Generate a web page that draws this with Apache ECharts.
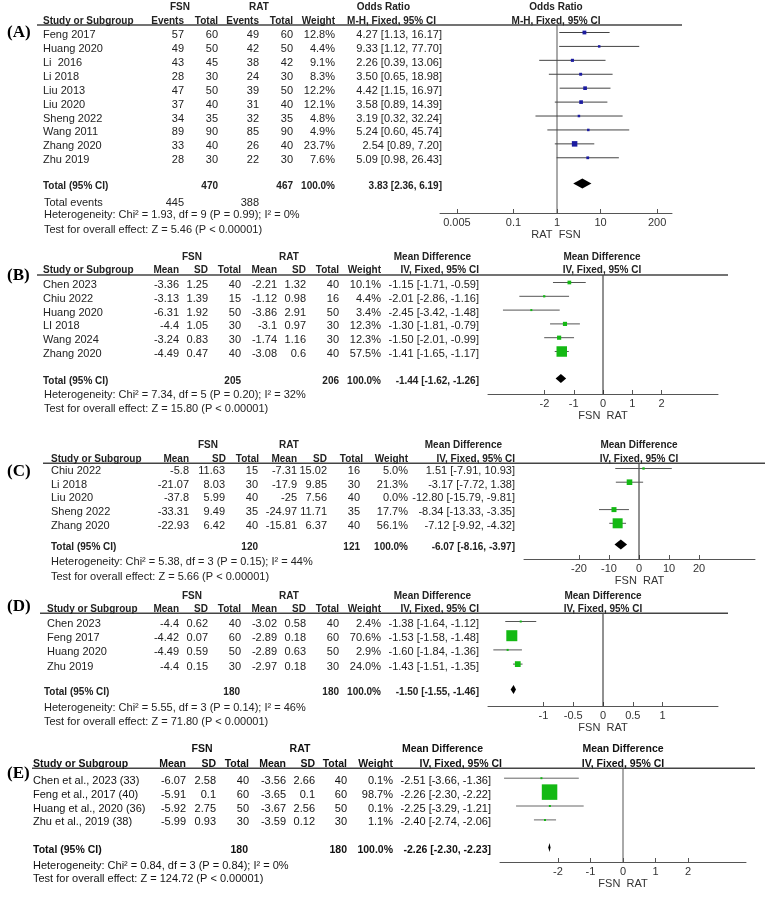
<!DOCTYPE html>
<html><head><meta charset="utf-8">
<script src="https://cdn.jsdelivr.net/npm/echarts@6/dist/echarts.min.js"></script>
<style>html,body{margin:0;padding:0;background:#fff}#c{width:767px;height:899px}</style>
</head><body><div id="c"></div>
<script>
// ================= DATA =================
// (A) Odds ratio
const studiesA = ['Feng 2017','Huang 2020','Li  2016','Li 2018','Liu 2013','Liu 2020','Sheng 2022','Wang 2011','Zhang 2020','Zhu 2019'];
const fsnEventsA = [57,49,43,28,47,37,34,89,33,28];
const fsnTotalA  = [60,50,45,30,50,40,35,90,40,30];
const ratEventsA = [49,42,38,24,39,31,32,85,26,22];
const ratTotalA  = [60,50,42,30,50,40,35,90,40,30];
const weightA = [12.8,4.4,9.1,8.3,12.2,12.1,4.8,4.9,23.7,7.6];
const orA   = [4.27,9.33,2.26,3.50,4.42,3.58,3.19,5.24,2.54,5.09];
const orLoA = [1.13,1.12,0.39,0.65,1.15,0.89,0.32,0.60,0.89,0.98];
const orHiA = [16.17,77.70,13.06,18.98,16.97,14.39,32.24,45.74,7.20,26.43];
const pooledA = [3.83,2.36,6.19];
const totalsA = [470,467];
const eventsA = [445,388];
const hetA  = 'Heterogeneity: Chi² = 1.93, df = 9 (P = 0.99); I² = 0%';
const testA = 'Test for overall effect: Z = 5.46 (P < 0.00001)';
const ticksA = [0.005,0.1,1,10,200];

// (B)
const studiesB = ['Chen 2023','Chiu 2022','Huang 2020','LI 2018','Wang 2024','Zhang 2020'];
const fsnMeanB = [-3.36,-3.13,-6.31,-4.4,-3.24,-4.49];
const fsnSdB   = [1.25,1.39,1.92,1.05,0.83,0.47];
const fsnNB    = [40,15,50,30,30,40];
const ratMeanB = [-2.21,-1.12,-3.86,-3.1,-1.74,-3.08];
const ratSdB   = [1.32,0.98,2.91,0.97,1.16,0.6];
const ratNB    = [40,16,50,30,30,40];
const weightB  = [10.1,4.4,3.4,12.3,12.3,57.5];
const mdB   = [-1.15,-2.01,-2.45,-1.30,-1.50,-1.41];
const mdLoB = [-1.71,-2.86,-3.42,-1.81,-2.01,-1.65];
const mdHiB = [-0.59,-1.16,-1.48,-0.79,-0.99,-1.17];
const pooledB = [-1.44,-1.62,-1.26];
const totalsB = [205,206];
const hetB  = 'Heterogeneity: Chi² = 7.34, df = 5 (P = 0.20); I² = 32%';
const testB = 'Test for overall effect: Z = 15.80 (P < 0.00001)';
const ticksB = [-2,-1,0,1,2];

// (C)
const studiesC = ['Chiu 2022','Li 2018','Liu 2020','Sheng 2022','Zhang 2020'];
const fsnMeanC = [-5.8,-21.07,-37.8,-33.31,-22.93];
const fsnSdC   = [11.63,8.03,5.99,9.49,6.42];
const fsnNC    = [15,30,40,35,40];
const ratMeanC = [-7.31,-17.9,-25,-24.97,-15.81];
const ratSdC   = [15.02,9.85,7.56,11.71,6.37];
const ratNC    = [16,30,40,35,40];
const weightC  = [5.0,21.3,0.0,17.7,56.1];
const mdC   = [1.51,-3.17,-12.80,-8.34,-7.12];
const mdLoC = [-7.91,-7.72,-15.79,-13.33,-9.92];
const mdHiC = [10.93,1.38,-9.81,-3.35,-4.32];
const pooledC = [-6.07,-8.16,-3.97];
const totalsC = [120,121];
const hetC  = 'Heterogeneity: Chi² = 5.38, df = 3 (P = 0.15); I² = 44%';
const testC = 'Test for overall effect: Z = 5.66 (P < 0.00001)';
const ticksC = [-20,-10,0,10,20];

// (D)
const studiesD = ['Chen 2023','Feng 2017','Huang 2020','Zhu 2019'];
const fsnMeanD = [-4.4,-4.42,-4.49,-4.4];
const fsnSdD   = [0.62,0.07,0.59,0.15];
const fsnND    = [40,60,50,30];
const ratMeanD = [-3.02,-2.89,-2.89,-2.97];
const ratSdD   = [0.58,0.18,0.63,0.18];
const ratND    = [40,60,50,30];
const weightD  = [2.4,70.6,2.9,24.0];
const mdD   = [-1.38,-1.53,-1.60,-1.43];
const mdLoD = [-1.64,-1.58,-1.84,-1.51];
const mdHiD = [-1.12,-1.48,-1.36,-1.35];
const pooledD = [-1.50,-1.55,-1.46];
const totalsD = [180,180];
const hetD  = 'Heterogeneity: Chi² = 5.55, df = 3 (P = 0.14); I² = 46%';
const testD = 'Test for overall effect: Z = 71.80 (P < 0.00001)';
const ticksD = [-1,-0.5,0,0.5,1];

// (E)
const studiesE = ['Chen et al., 2023 (33)','Feng et al., 2017 (40)','Huang et al., 2020 (36)','Zhu et al., 2019 (38)'];
const fsnMeanE = [-6.07,-5.91,-5.92,-5.99];
const fsnSdE   = [2.58,0.1,2.75,0.93];
const fsnNE    = [40,60,50,30];
const ratMeanE = [-3.56,-3.65,-3.67,-3.59];
const ratSdE   = [2.66,0.1,2.56,0.12];
const ratNE    = [40,60,50,30];
const weightE  = [0.1,98.7,0.1,1.1];
const mdE   = [-2.51,-2.26,-2.25,-2.40];
const mdLoE = [-3.66,-2.30,-3.29,-2.74];
const mdHiE = [-1.36,-2.22,-1.21,-2.06];
const pooledE = [-2.26,-2.30,-2.23];
const totalsE = [180,180];
const hetE  = 'Heterogeneity: Chi² = 0.84, df = 3 (P = 0.84); I² = 0%';
const testE = 'Test for overall effect: Z = 124.72 (P < 0.00001)';
const ticksE = [-2,-1,0,1,2];

// ================= PANELS =================
const mdHeads = ['Mean','SD','Total','Mean','SD','Total'];
const panels = [
 {id:'(A)', log:true, studies:studiesA, cols:[fsnEventsA,fsnTotalA,ratEventsA,ratTotalA], heads:['Events','Total','Events','Total'],
  weights:weightA, est:orA, lo:orLoA, hi:orHiA, pooled:pooledA, totals:totalsA, events:eventsA, het:hetA, test:testA, ticks:ticksA,
  axisName:'RAT  FSN', group:'Odds Ratio', method:'M-H, Fixed, 95% CI'},
 {id:'(B)', log:false, studies:studiesB, cols:[fsnMeanB,fsnSdB,fsnNB,ratMeanB,ratSdB,ratNB], heads:mdHeads,
  weights:weightB, est:mdB, lo:mdLoB, hi:mdHiB, pooled:pooledB, totals:totalsB, het:hetB, test:testB, ticks:ticksB,
  axisName:'FSN  RAT', group:'Mean Difference', method:'IV, Fixed, 95% CI'},
 {id:'(C)', log:false, studies:studiesC, cols:[fsnMeanC,fsnSdC,fsnNC,ratMeanC,ratSdC,ratNC], heads:mdHeads,
  weights:weightC, est:mdC, lo:mdLoC, hi:mdHiC, pooled:pooledC, totals:totalsC, het:hetC, test:testC, ticks:ticksC,
  axisName:'FSN  RAT', group:'Mean Difference', method:'IV, Fixed, 95% CI'},
 {id:'(D)', log:false, studies:studiesD, cols:[fsnMeanD,fsnSdD,fsnND,ratMeanD,ratSdD,ratND], heads:mdHeads,
  weights:weightD, est:mdD, lo:mdLoD, hi:mdHiD, pooled:pooledD, totals:totalsD, het:hetD, test:testD, ticks:ticksD,
  axisName:'FSN  RAT', group:'Mean Difference', method:'IV, Fixed, 95% CI'},
 {id:'(E)', log:false, studies:studiesE, cols:[fsnMeanE,fsnSdE,fsnNE,ratMeanE,ratSdE,ratNE], heads:mdHeads,
  weights:weightE, est:mdE, lo:mdLoE, hi:mdHiE, pooled:pooledE, totals:totalsE, het:hetE, test:testE, ticks:ticksE,
  axisName:'FSN  RAT', group:'Mean Difference', method:'IV, Fixed, 95% CI'}
];

// ================= LAYOUT (pixels) =================
const green = '#14b914';
const layouts = [
 {labelY:33, groupY:7, headY:21.5, lineY:25, lineX:[37,682], row0:35, step:13.92, totalY:186, eventsY:203, hetY:215, testY:230,
  axisY:213, axisX:[440,672], zeroX:557, ppu:43.5, studyX:43, totalX:43, footX:44,
  colR:[184,218,259,293], headR:[184,218,259,293], weightR:335, weightHeadR:335, ciR:442, totColR:[218,293], totWeightR:335,
  groupC:[180,259], groupCiR:410, methodR:436, forestC:556, bold:10, reg:11, color:'#222',
  maxSide:5.5, minSide:2.5, markColor:'#1c1ca0', ciColor:'#444', nullColor:'#555', diamondH:5},
 {labelY:276, groupY:257, headY:270, lineY:275, lineX:[37,728], row0:285, step:13.8, totalY:381, hetY:395, testY:409,
  axisY:394, axisX:[488,718], zeroX:603, ppu:29.25, studyX:43, totalX:43, footX:44,
  colR:[179,208,241,277,306,339], headR:[179,208,241,277,306,339], weightR:381, weightHeadR:381, ciR:479, totColR:[241,339], totWeightR:381,
  groupC:[192,289], groupCiR:471, methodR:479, forestC:602, bold:10, reg:11, color:'#222',
  maxSide:10.5, minSide:2, markColor:green, ciColor:'#555', nullColor:'#222', diamondH:4.5},
 {labelY:472, groupY:445, headY:459, lineY:463.3, lineX:[43,765], row0:471, step:13.7, totalY:547, hetY:562, testY:576.7,
  axisY:559, axisX:[524,755], zeroX:639, ppu:3, studyX:51, totalX:51, footX:51,
  colR:[189,225,258,297,327,360], headR:[189,226,259,297,327,363], weightR:408, weightHeadR:408, ciR:515, totColR:[258,360], totWeightR:408,
  groupC:[208,289], groupCiR:502, methodR:515, forestC:639, bold:10, reg:11, color:'#222',
  maxSide:10, minSide:2, markColor:green, ciColor:'#555', nullColor:'#222', diamondH:5},
 {labelY:607, groupY:596, headY:609.5, lineY:613.3, lineX:[40,728], row0:624, step:14.2, totalY:692, hetY:708, testY:722,
  axisY:706, axisX:[488,718], zeroX:603, ppu:59.6, studyX:47, totalX:44, footX:44,
  colR:[179,208,241,277,306,339], headR:[179,208,241,277,306,339], weightR:381, weightHeadR:381, ciR:479, totColR:[240,339], totWeightR:381,
  groupC:[192,289], groupCiR:471, methodR:479, forestC:603, bold:10, reg:11, color:'#222',
  maxSide:11, minSide:2, markColor:green, ciColor:'#555', nullColor:'#222', diamondH:4.5},
 {labelY:774, groupY:749, headY:764, lineY:768.3, lineX:[32,755], row0:780.7, step:13.9, totalY:850, hetY:866, testY:879.3,
  axisY:862, axisX:[500,746], zeroX:623, ppu:32.5, studyX:33, totalX:33, footX:33,
  colR:[186,216,249,286,315,347], headR:[186,216,249,286,315,347], weightR:393, weightHeadR:393, ciR:491, totColR:[248,347], totWeightR:393,
  groupC:[202,300], groupCiR:483, methodR:502, forestC:623, bold:10.5, reg:11, color:'#111',
  maxSide:15.5, minSide:2, markColor:green, ciColor:'#666', nullColor:'#555', diamondH:4.5}
];
const markShift = -2.5;

// ================= BUILD =================
const FONT = '"Liberation Sans", Arial, Helvetica, sans-serif';
const els = [];
function T(x, y, s, align, bold, size, color, family){
  const f = (bold ? 'bold ' : '') + size + 'px ' + (family || FONT);
  els.push({type:'text', x:x, y:y, silent:true, z:10,
    style:{text:String(s), fill:color, font:f, align:align, verticalAlign:'middle', textAlign:align, textVerticalAlign:'middle'}});
}
function HL(x1, x2, y, w, c){
  els.push({type:'line', silent:true, z:5, shape:{x1:x1, y1:y, x2:x2, y2:y}, style:{stroke:c, lineWidth:w}});
}
const fmt2 = v => v.toFixed(2);
const ciText = (e, l, h) => fmt2(e) + ' [' + fmt2(l) + ', ' + fmt2(h) + ']';

const grids = [], xAxes = [], yAxes = [], series = [];

panels.forEach((P, gi) => {
  const Lo = layouts[gi];
  const c = Lo.color, B = Lo.bold, R = Lo.reg;
  const tx = P.log ? (v => Math.log10(v)) : (v => v);
  const n = P.studies.length;
  const rowY = i => Lo.row0 + i * Lo.step;

  // panel label
  T(7, Lo.labelY, P.id, 'left', true, 17, '#000', '"Liberation Serif", "Times New Roman", serif');
  // group headers
  T(Lo.groupC[0], Lo.groupY, 'FSN', 'center', true, B, c);
  T(Lo.groupC[1], Lo.groupY, 'RAT', 'center', true, B, c);
  T(Lo.groupCiR, Lo.groupY, P.group, 'right', true, B, c);
  T(Lo.forestC, Lo.groupY, P.group, 'center', true, B, c);
  // column headers
  T(Lo.studyX, Lo.headY, 'Study or Subgroup', 'left', true, B, c);
  P.heads.forEach((h, k) => T(Lo.headR[k], Lo.headY, h, 'right', true, B, c));
  T(Lo.weightHeadR, Lo.headY, 'Weight', 'right', true, B, c);
  T(Lo.methodR, Lo.headY, P.method, 'right', true, B, c);
  T(Lo.forestC, Lo.headY, P.method, 'center', true, B, c);
  HL(Lo.lineX[0], Lo.lineX[1], Lo.lineY, 1.5, '#444');

  // study rows
  P.studies.forEach((s, i) => {
    const y = rowY(i);
    T(Lo.studyX, y, s, 'left', false, R, c);
    P.cols.forEach((col, k) => T(Lo.colR[k], y, String(col[i]), 'right', false, R, c));
    T(Lo.weightR, y, P.weights[i].toFixed(1) + '%', 'right', false, R, c);
    T(Lo.ciR, y, ciText(P.est[i], P.lo[i], P.hi[i]), 'right', false, R, c);
  });
  // total row
  T(Lo.totalX, Lo.totalY, 'Total (95% CI)', 'left', true, B, c);
  T(Lo.totColR[0], Lo.totalY, String(P.totals[0]), 'right', true, B, c);
  T(Lo.totColR[1], Lo.totalY, String(P.totals[1]), 'right', true, B, c);
  T(Lo.totWeightR, Lo.totalY, '100.0%', 'right', true, B, c);
  T(Lo.ciR, Lo.totalY, ciText(P.pooled[0], P.pooled[1], P.pooled[2]), 'right', true, B, c);
  if (P.events) {
    T(Lo.footX, Lo.eventsY, 'Total events', 'left', false, R, c);
    T(Lo.colR[0], Lo.eventsY, String(P.events[0]), 'right', false, R, c);
    T(Lo.colR[2], Lo.eventsY, String(P.events[1]), 'right', false, R, c);
  }
  T(Lo.footX, Lo.hetY, P.het, 'left', false, R, c);
  T(Lo.footX, Lo.testY, P.test, 'left', false, R, c);

  // forest plot grid
  const r0 = Lo.row0 + markShift;
  const yMin = (Lo.lineY - r0) / Lo.step;
  const yMax = (Lo.axisY - r0) / Lo.step;
  const totalRow = (Lo.totalY - Lo.row0) / Lo.step;
  const xMin = (Lo.axisX[0] - Lo.zeroX) / Lo.ppu;
  const xMax = (Lo.axisX[1] - Lo.zeroX) / Lo.ppu;
  grids.push({left:Lo.axisX[0], top:Lo.lineY, width:Lo.axisX[1] - Lo.axisX[0], height:Lo.axisY - Lo.lineY,
              containLabel:false, outerBoundsMode:'none'});
  const tickVals = P.ticks.map(tx);
  xAxes.push({type:'value', gridIndex:gi, min:xMin, max:xMax, position:'bottom',
    axisLine:{show:true, onZero:false, lineStyle:{color:'#555', width:1}},
    axisTick:{show:true, inside:true, length:4, customValues:tickVals, lineStyle:{color:'#555'}},
    axisLabel:{show:true, customValues:tickVals, margin:4, fontSize:11, color:'#333', fontFamily:FONT,
      formatter:(v) => { let best = P.ticks[0], bd = Infinity; P.ticks.forEach(t => { const d = Math.abs(tx(t) - v); if (d < bd) { bd = d; best = t; } }); return String(best); }},
    splitLine:{show:false},
    name:P.axisName, nameLocation:'middle', nameGap:16,
    nameTextStyle:{fontSize:11, color:'#333', fontFamily:FONT}});
  yAxes.push({type:'value', gridIndex:gi, min:yMin, max:yMax, inverse:true, show:false});

  const wmax = Math.max.apply(null, P.weights);
  const data = [];
  P.studies.forEach((s, i) => {
    if (P.weights[i] > 0) data.push([tx(P.est[i]), tx(P.lo[i]), tx(P.hi[i]), i, P.weights[i], 0]);
  });
  data.push([tx(P.pooled[0]), tx(P.pooled[1]), tx(P.pooled[2]), totalRow, 100, 1]);

  // null line (derived from axis bounds)
  const nullX = tx(P.log ? 1 : 0);
  series.push({type:'line', xAxisIndex:gi, yAxisIndex:gi, data:[[nullX, yMin], [nullX, yMax]],
    showSymbol:false, symbol:'none', silent:true, animation:false, z:1, clip:false,
    lineStyle:{color:Lo.nullColor, width:1}});

  series.push({type:'custom', xAxisIndex:gi, yAxisIndex:gi, data:data, animation:false, silent:true, z:3, clip:false,
    encode:{x:[0,1,2], y:3},
    renderItem:function(params, api){
      const est = api.value(0), lo = api.value(1), hi = api.value(2), row = api.value(3), w = api.value(4), kind = api.value(5);
      const a = api.coord([lo, row]), b = api.coord([hi, row]), cc = api.coord([est, row]);
      if (kind === 1) {
        const h = Lo.diamondH;
        return {type:'polygon', shape:{points:[[a[0], cc[1]], [cc[0], cc[1] - h], [b[0], cc[1]], [cc[0], cc[1] + h]]},
                style:{fill:'#000'}};
      }
      const s = Math.max(Lo.minSide, Lo.maxSide * Math.pow(w / wmax, 0.6));
      return {type:'group', children:[
        {type:'line', shape:{x1:a[0], y1:a[1], x2:b[0], y2:b[1]}, style:{stroke:Lo.ciColor, lineWidth:1}},
        {type:'rect', shape:{x:cc[0] - s / 2, y:cc[1] - s / 2, width:s, height:s}, style:{fill:Lo.markColor}}
      ]};
    }});
});

const chart = echarts.init(document.getElementById('c'), null, {renderer:'canvas'});
chart.setOption({
  animation:false,
  backgroundColor:'#fff',
  grid:grids, xAxis:xAxes, yAxis:yAxes, series:series,
  graphic:{elements:els}
});
</script>
</body></html>
